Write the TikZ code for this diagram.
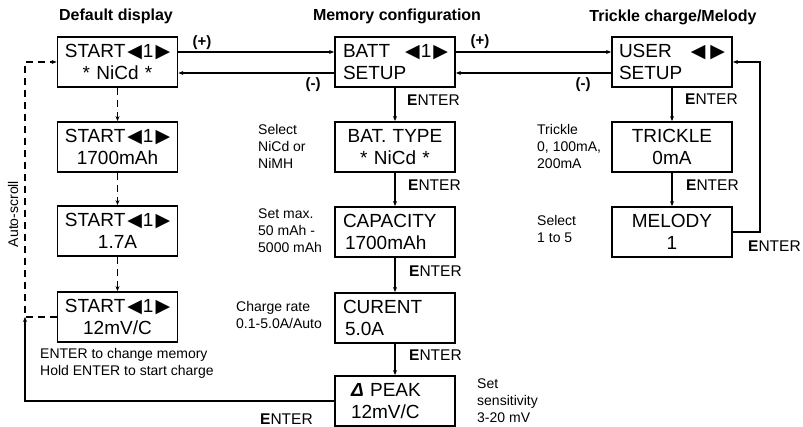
\documentclass[tikz,border=0pt]{standalone}
\usepackage{fontspec}
\setmainfont{Liberation Sans}
\newfontfamily\symfont{DejaVu Sans}
\usetikzlibrary{arrows.meta}
\newcommand{\trL}{{\symfont ◀}}
\newcommand{\trR}{{\symfont ▶}}
\newcommand{\sel}{\hspace{2pt}\trL\hspace{1pt}1\hspace{2pt}\trR}
\newcommand{\ent}{\textbf{E}NTER}
\begin{document}
\begin{tikzpicture}[x=1pt,y=-1pt,
  disp/.style={draw,line width=1.8pt,minimum width=120pt,minimum height=50pt,inner xsep=7pt,inner ysep=0pt,text width=106pt,font=\fontsize{19}{22}\selectfont},
  dc/.style={disp,align=center},
  dl/.style={disp,align=left},
  conn/.style={line width=1.2pt,-{Stealth[length=5pt,width=4pt]}},
  dconn/.style={conn,line width=1.4pt,dash pattern=on 7pt off 5pt},
  note/.style={font=\fontsize{14}{17}\selectfont,align=left,inner sep=0pt,anchor=west},
  enter/.style={font=\fontsize{15.5}{18}\selectfont,inner sep=0pt,anchor=west},
  head/.style={font=\bfseries\fontsize{16}{19}\selectfont,inner sep=0pt},
  pm/.style={font=\bfseries\fontsize{15}{18}\selectfont,inner sep=0pt}]
\useasboundingbox (0,0) rectangle (803,427);

% default display column
\node[dc] (d1) at (117.5,62) {START\sel\\{}* NiCd *};
\node[dc] (d2) at (117.5,147) {START\sel\\{}1700mAh};
\node[dc] (d3) at (117.5,231) {START\sel\\{}1.7A};
\node[dc] (d4) at (117.5,317) {START\sel\\{}12mV/C};

% memory configuration column
\node[dl] (m1) at (395,62) {\hspace*{1pt}BATT\hfill\trL\hspace{1pt}1\hspace{2pt}\trR\\\hspace*{1pt}SETUP};
\node[dc] (m2) at (395,147) {BAT. TYPE\\{}* NiCd *};
\node[dl] (m3) at (395,232) {\hspace*{1pt}CAPACITY\\\hspace*{3pt}1700mAh};
\node[dl] (m4) at (395,318) {\hspace*{1pt}CURENT\\\hspace*{3pt}5.0A};
\node[dl] (m5) at (395,401) {\hspace*{9pt}{\bfseries\itshape Δ} PEAK\\\hspace*{9pt}12mV/C};

% trickle / melody column
\node[dl] (t1) at (672,62) {USER\hfill\trL\hspace{5pt}\trR\\{}SETUP};
\node[dc] (t2) at (672,147) {TRICKLE\\{}0mA};
\node[dc] (t3) at (672,232) {MELODY\\{}1};

% headers
\node[head] (h1) at (116,16) {Default display};
\node[head] (h2) at (397,16) {Memory configuration};
\node[head] (h3) at (673,17) {Trickle charge/Melody};

% connectors
\draw[dconn] (d1.south) -- (d2.north);
\draw[dconn] (d2.south) -- (d3.north);
\draw[dconn] (d3.south) -- (d4.north);

\draw[conn] ([yshift=10pt]d1.east) -- ([yshift=10pt]m1.west);
\draw[conn] ([yshift=-11pt]m1.west) -- ([yshift=-11pt]d1.east);
\draw[conn] ([yshift=10pt]m1.east) -- ([yshift=10pt]t1.west);
\draw[conn] ([yshift=-11pt]t1.west) -- ([yshift=-11pt]m1.east);

\draw[conn] (m1.south) -- (m2.north);
\draw[conn] (m2.south) -- (m3.north);
\draw[conn] (m3.south) -- (m4.north);
\draw[conn] (m4.south) -- (m5.north);

\draw[conn] (t1.south) -- (t2.north);
\draw[conn] (t2.south) -- (t3.north);
\draw[conn] (t3.east) -- ++(27,0) |- (t1.east);

\coordinate (as) at (25,317);
\draw[dconn] (d4.west) -- (as) |- (d1.west);
\draw[conn] (m5.west) -| (as);

% labels
\node[pm] (p1) at (202,43) {(+)};
\node[pm] (n1) at (313,85) {(-)};
\node[pm] (p2) at (480,42) {(+)};
\node[pm] (n2) at (583,85) {(-)};

\node[enter] (e1) at (407,100) {\ent};
\node[enter] (e2) at (408,185) {\ent};
\node[enter] (e3) at (409,271) {\ent};
\node[enter] (e4) at (409,355) {\ent};
\node[enter] (e5) at (685,99) {\ent};
\node[enter] (e6) at (686,185) {\ent};
\node[enter] (e7) at (748,246) {\ent};
\node[enter] (e8) at (260,419) {\ent};

\node[note] (s1) at (258,146) {Select\\NiCd or\\NiMH};
\node[note] (s2) at (258,231) {Set max.\\50 mAh -\\5000 mAh};
\node[note] (s3) at (236,315) {Charge rate\\0.1-5.0A/Auto};
\node[note] (s4) at (477,401) {Set\\sensitivity\\3-20 mV};
\node[note] (s5) at (537,146) {Trickle\\0, 100mA,\\200mA};
\node[note] (s6) at (537,229) {Select\\1 to 5};
\node[note] (s7) at (40,363) {ENTER to change memory\\Hold ENTER to start charge};
\node[note,anchor=center,rotate=90] (asl) at (13,214) {Auto-scroll};
\end{tikzpicture}
\end{document}
